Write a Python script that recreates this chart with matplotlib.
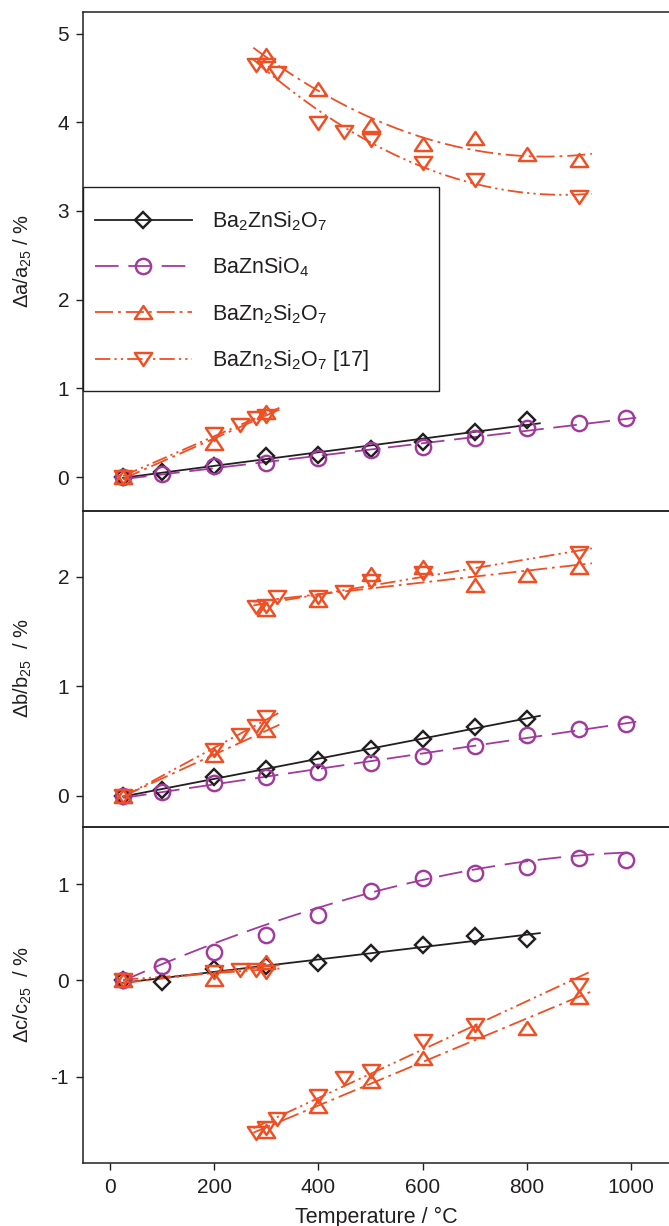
import numpy as np
import matplotlib
matplotlib.use("Agg")
import matplotlib.pyplot as plt
from matplotlib.lines import Line2D
from matplotlib.path import Path
from matplotlib.patches import Rectangle

plt.rcParams['font.family'] = ['Liberation Sans', 'DejaVu Sans']
plt.rcParams['axes.unicode_minus'] = False
plt.rcParams['lines.scale_dashes'] = False
plt.rcParams['mathtext.fontset'] = 'custom'
plt.rcParams['mathtext.rm'] = 'Liberation Sans'
plt.rcParams['mathtext.it'] = 'Liberation Sans:italic'
plt.rcParams['mathtext.default'] = 'regular'

# ---------------- data ----------------
T_main = [25, 100, 200, 300, 400, 500, 600, 700, 800]                 # Ba2ZnSi2O7
T_ortho = [25, 100, 200, 300, 400, 500, 600, 700, 800, 900, 990]      # BaZnSiO4
T_bz_lo = [25, 200, 300]                                              # BaZn2Si2O7 low-T
T_bz_hi = [300, 400, 500, 600, 700, 800, 900]                         # BaZn2Si2O7 high-T
T_ref_lo = [25, 200, 250, 280, 300]                                   # BaZn2Si2O7 [17] low-T
T_ref_hi = [280, 300, 320, 400, 450, 500, 600, 700, 900]              # BaZn2Si2O7 [17] high-T

a_main = [0, 0.06, 0.12, 0.24, 0.25, 0.32, 0.39, 0.51, 0.64]
a_ortho = [0, 0.03, 0.12, 0.16, 0.21, 0.30, 0.34, 0.44, 0.55, 0.61, 0.66]
a_bz_lo = [0, 0.38, 0.73]
a_bz_hi = [4.76, 4.37, 3.97, 3.76, 3.82, 3.64, 3.58]
a_ref_lo = [0, 0.49, 0.59, 0.67, 0.69]
a_ref_hi = [4.65, 4.65, 4.56, 3.99, 3.89, 3.80, 3.54, 3.35, 3.16]

b_main = [0, 0.05, 0.17, 0.25, 0.33, 0.43, 0.52, 0.63, 0.70]
b_ortho = [0, 0.04, 0.12, 0.17, 0.22, 0.30, 0.36, 0.46, 0.56, 0.61, 0.66]
b_bz_lo = [0, 0.37, 0.60]
b_bz_hi = [1.70, 1.79, 2.02, 2.09, 1.92, 2.01, 2.09]
b_ref_lo = [0, 0.42, 0.56, 0.64, 0.72]
b_ref_hi = [1.72, 1.73, 1.81, 1.81, 1.86, 1.96, 2.03, 2.08, 2.21]

c_main = [0, -0.02, 0.12, 0.15, 0.18, 0.29, 0.37, 0.46, 0.43]
c_ortho = [0, 0.15, 0.30, 0.47, 0.68, 0.93, 1.07, 1.12, 1.18, 1.27, 1.25]
c_bz_lo = [0, 0.01, 0.19]
c_bz_hi = [-1.57, -1.31, -1.05, -0.81, -0.53, -0.50, -0.17]
c_ref_lo = [0, 0.09, 0.11, 0.11, 0.09]
c_ref_hi = [-1.59, -1.54, -1.44, -1.20, -1.02, -0.94, -0.63, -0.46, -0.05]

# BaZnSiO4 c-axis fit curve (it lies above the early points)
T_cfit_ortho = [25, 200, 400, 600, 800, 1010]
c_fit_ortho = [0, 0.38, 0.75, 1.07, 1.22, 1.34]

# temperature ranges of the fitted curves
fit_main = (25, 825)
fit_ortho = (25, 1010)
fit_lo = (25, 325)
fit_hi = (275, 925)

labels = ['Ba$_2$ZnSi$_2$O$_7$', 'BaZnSiO$_4$', 'BaZn$_2$Si$_2$O$_7$', 'BaZn$_2$Si$_2$O$_7$ [17]']
ylabels = [r'$\Delta$a/a$_{25}$ / %', r'$\Delta$b/b$_{25}$  / %', r'$\Delta$c/c$_{25}$  / %']
xlabel = 'Temperature / °C'

# ---------------- styles ----------------
BLACK = '#231F20'
PURPLE = '#A23A9E'
ORANGE = '#F04E23'

tri_up = Path([(0, 0.75), (-1, -0.75), (1, -0.75), (0, 0.75)],
              [Path.MOVETO, Path.LINETO, Path.LINETO, Path.CLOSEPOLY])
tri_dn = Path([(0, -0.75), (-1, 0.75), (1, 0.75), (0, -0.75)],
              [Path.MOVETO, Path.LINETO, Path.LINETO, Path.CLOSEPOLY])

styles = [
    dict(color=BLACK, ls='-', marker='D', ms=8.4),
    dict(color=PURPLE, ls=(0, (17, 7)), marker='o', ms=11),
    dict(color=ORANGE, ls=(0, (13, 3.6, 2, 3.6)), marker=tri_up, ms=12.5),
    dict(color=ORANGE, ls=(0, (11, 3, 1.6, 3, 1.6, 3)), marker=tri_dn, ms=12.5),
]
LW = 1.3
MEW = 1.75

fig = plt.figure(figsize=(6.69, 12.26), dpi=100)
left = 83 / 669
width = 1 - left
H = 1226
pos = [
    (left, 1 - 510.7 / H, width, (510.7 - 12.3) / H),
    (left, 1 - 826.7 / H, width, (826.7 - 510.7) / H),
    (left, 1 - 1163 / H, width, (1163 - 826.7) / H),
]
axes = [fig.add_axes(p) for p in pos]

panels = [
    (a_main, (T_ortho, a_ortho, 1), a_bz_lo, a_bz_hi, a_ref_lo, a_ref_hi, 2, 2),
    (b_main, (T_ortho, b_ortho, 1), b_bz_lo, b_bz_hi, b_ref_lo, b_ref_hi, 1, 1),
    (c_main, (T_cfit_ortho, c_fit_ortho, 3), c_bz_lo, c_bz_hi, c_ref_lo, c_ref_hi, 1, 1),
]
ortho_pts = [a_ortho, b_ortho, c_ortho]
ylims = [(-0.38, 5.24), (-0.28, 2.60), (-1.90, 1.60)]
yticks = [[0, 1, 2, 3, 4, 5], [0, 1, 2], [-1, 0, 1]]


def fit_line(ax, T, y, rng, deg, st):
    coef = np.polyfit(T, y, deg)
    xs = np.linspace(rng[0], rng[1], 200)
    ax.plot(xs, np.polyval(coef, xs), color=st['color'], ls=st['ls'], lw=LW, zorder=2)


def points(ax, T, y, st):
    ax.plot(T, y, ls='none', marker=st['marker'], ms=st['ms'], mfc='none',
            mec=st['color'], mew=MEW, zorder=3)


for i, (ax, pdata) in enumerate(zip(axes, panels)):
    m, ofit, blo, bhi, rlo, rhi, deg_bhi, deg_rhi = pdata
    fit_line(ax, T_main, m, fit_main, 1, styles[0])
    fit_line(ax, ofit[0], ofit[1], fit_ortho, ofit[2], styles[1])
    fit_line(ax, T_bz_lo, blo, fit_lo, 1, styles[2])
    fit_line(ax, T_bz_hi, bhi, fit_hi, deg_bhi, styles[2])
    fit_line(ax, T_ref_lo, rlo, fit_lo, 1, styles[3])
    fit_line(ax, T_ref_hi, rhi, fit_hi, deg_rhi, styles[3])
    points(ax, T_main, m, styles[0])
    points(ax, T_ortho, ortho_pts[i], styles[1])
    points(ax, T_bz_lo, blo, styles[2])
    points(ax, T_bz_hi, bhi, styles[2])
    points(ax, T_ref_lo, rlo, styles[3])
    points(ax, T_ref_hi, rhi, styles[3])

    ax.set_xlim(-52, 1073)
    ax.set_ylim(*ylims[i])
    ax.set_yticks(yticks[i])
    ax.patch.set_alpha(0)
    ax.spines['right'].set_visible(False)
    for s in ax.spines.values():
        s.set_color(BLACK)
        s.set_linewidth(1.1)
    ax.tick_params(axis='y', direction='out', length=5, width=1, colors=BLACK,
                   labelsize=15, pad=5)
    ax.tick_params(axis='x', direction='out', length=5, width=1, colors=BLACK,
                   labelsize=15, pad=6)
    ax.set_ylabel(ylabels[i], fontsize=14.5, color=BLACK)
    ax.yaxis.set_label_coords(-0.083, 0.5)
    if i < 2:
        ax.tick_params(axis='x', bottom=False, labelbottom=False)
    else:
        ax.set_xticks([0, 200, 400, 600, 800, 1000])
        ax.set_xlabel(xlabel, fontsize=15.5, color=BLACK, labelpad=7)

# legend: frame drawn separately, entries placed inside it
ax0 = axes[0]
ax0.add_patch(Rectangle((0, 0.2395), 0.6075, 0.65 - 0.2395, transform=ax0.transAxes,
                        facecolor='white', edgecolor=BLACK, lw=1.0, zorder=5,
                        clip_on=False))
handles = [Line2D([0], [0], color=st['color'], ls=st['ls'], lw=LW, marker=st['marker'],
                  ms=st['ms'], mfc='none', mec=st['color'], mew=MEW) for st in styles]
leg = ax0.legend(handles, labels, loc='upper left',
                 bbox_to_anchor=(0, 0.628), borderaxespad=0,
                 fontsize=15.5, handlelength=4.5, handletextpad=0.95,
                 labelspacing=1.05, borderpad=0.55, numpoints=1, frameon=False)
leg.set_zorder(6)
for t in leg.get_texts():
    t.set_color(BLACK)

fig.savefig('out.png', dpi=100)
